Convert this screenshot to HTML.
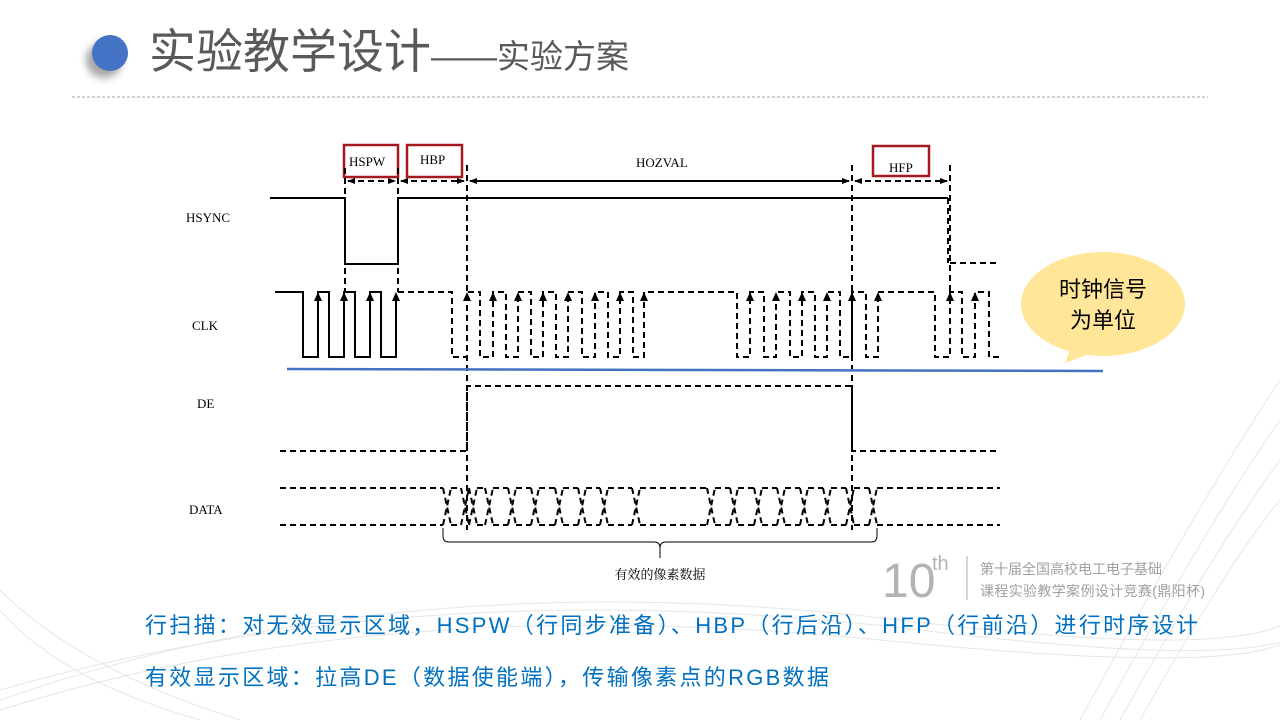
<!DOCTYPE html>
<html><head><meta charset="utf-8"><style>
body{margin:0;width:1280px;height:720px;overflow:hidden;background:#fff;font-family:"Liberation Sans","Noto Sans CJK SC",sans-serif;}
.abs{position:absolute;white-space:nowrap;}
</style></head><body>
<div style="position:relative;width:1280px;height:720px;">
<svg class="abs" style="left:0;top:0" width="1280" height="720" xmlns="http://www.w3.org/2000/svg">
<defs><filter id="sh" x="-50%" y="-50%" width="200%" height="200%"><feGaussianBlur stdDeviation="4"/></filter>
<marker id="a" markerWidth="8" markerHeight="8" refX="7" refY="4" orient="auto-start-reverse" markerUnits="userSpaceOnUse"><path d="M0,1 L8,4 L0,7 z" fill="#000"/></marker></defs>
<g fill="none" stroke="#e6e6e6" stroke-width="1">
<path d="M0,700 Q400,560 900,620 T1280,560"/><path d="M0,690 Q420,570 920,630 T1280,575"/><path d="M0,710 Q380,590 880,640 T1280,600"/>
<path d="M1080,720 Q1200,500 1280,380"/><path d="M1100,720 Q1210,520 1280,420"/><path d="M1120,720 Q1220,540 1280,460"/><path d="M1140,720 Q1230,560 1280,500"/>
<path d="M0,610 Q60,680 200,720"/><path d="M0,590 Q80,670 240,720"/>
</g>
<circle cx="104" cy="60" r="18" fill="#000" opacity="0.35" filter="url(#sh)"/>
<circle cx="110" cy="53" r="18" fill="#4472c4"/>
<line x1="72" y1="97" x2="1208" y2="97" stroke="#a6a6a6" stroke-dasharray="3,2"/>
<g fill="none" stroke="#a3191e" stroke-width="2.5">
<rect x="344" y="145" width="54" height="32"/><rect x="407" y="145" width="55" height="32"/><rect x="873" y="146" width="56" height="30"/>
</g>
<g font-family="Liberation Serif,serif" font-size="13" fill="#000">
<text x="349" y="166">HSPW</text><text x="420" y="164">HBP</text><text x="889" y="172">HFP</text>
<text x="636" y="167">HOZVAL</text>
<text x="186" y="222">HSYNC</text><text x="192" y="330">CLK</text><text x="197" y="408">DE</text><text x="189" y="514">DATA</text>
</g>
<g stroke="#000" stroke-width="2" fill="none">
<path d="M270,198 H345 V264 H398 V198 H948"/>
<path d="M275,292 H303 V357 H318 V292 H329 V357 H344 V292 H355 V357 H370 V292 H381 V357 H396 V294"/>
<line x1="470" y1="181" x2="849" y2="181" marker-start="url(#a)" marker-end="url(#a)"/>
</g>
<g stroke="#000" stroke-width="2" fill="none" stroke-dasharray="6,4">
<line x1="345" y1="168" x2="345" y2="292"/><line x1="398" y1="168" x2="398" y2="292"/>
<line x1="467" y1="165" x2="467" y2="530"/><line x1="852" y1="165" x2="852" y2="530"/>
<line x1="950" y1="165" x2="950" y2="298"/>
<line x1="948" y1="198" x2="948" y2="263"/><line x1="950" y1="263" x2="1000" y2="263"/>
<line x1="348" y1="181" x2="395" y2="181" marker-start="url(#a)" marker-end="url(#a)"/>
<line x1="401" y1="181" x2="464" y2="181" marker-start="url(#a)" marker-end="url(#a)"/>
<line x1="855" y1="181" x2="947" y2="181" marker-start="url(#a)" marker-end="url(#a)"/>
<path d="M398,292 H452 V357 H467 V292 H480 V357 H493 V292 H506 V357 H518 V292 H531 V357 H543 V292 H556 V357 H568 V292 H582 V357 H595 V292 H608 V357 H620 V292 H633 V357 H644 V292 H737 V357 H750 V292 H764 V357 H776 V292 H790 V357 H802 V292 H815 V357 H827 V292 H840 V357 H852 V292 H866 V357 H878 V292 H935 V357 H950 V292 H962 V357 H975 V292 H989 V357 H1003"/>
<path d="M280,451 H467 V386 H852 V451 H1000"/>
<path d="M280,488 H443 M280,525 H443 M877,488 H1000 M877,525 H1000"/>
<path d="M443,488 L451,525 M443,525 L451,488 M451,488 H461 M451,525 H461 M461,488 L469,525 M461,525 L469,488"/>
<path d="M469,488 L477,525 M469,525 L477,488 M477,488 H485 M477,525 H485 M485,488 L493,525 M485,525 L493,488 M493,488 H508 M493,525 H508 M508,488 L516,525 M508,525 L516,488 M516,488 H531 M516,525 H531 M531,488 L539,525 M531,525 L539,488 M539,488 H555 M539,525 H555 M555,488 L563,525 M555,525 L563,488 M563,488 H578 M563,525 H578 M578,488 L586,525 M578,525 L586,488 M586,488 H600 M586,525 H600 M600,488 L608,525 M600,525 L608,488 M608,488 H632 M608,525 H632 M632,488 L640,525 M632,525 L640,488"/>
<path d="M640,488 H707 M640,525 H707 M707,488 L715,525 M707,525 L715,488 M715,488 H730 M715,525 H730 M730,488 L738,525 M730,525 L738,488 M738,488 H754 M738,525 H754 M754,488 L762,525 M754,525 L762,488 M762,488 H777 M762,525 H777 M777,488 L785,525 M777,525 L785,488 M785,488 H800 M785,525 H800 M800,488 L808,525 M800,525 L808,488 M808,488 H823 M808,525 H823 M823,488 L831,525 M823,525 L831,488 M831,488 H846 M831,525 H846 M846,488 L854,525 M846,525 L854,488 M854,488 H869 M854,525 H869 M869,488 L877,525 M869,525 L877,488"/>
</g>
<g fill="#000"><path d="M318,292 l-4,9 h8z"/><path d="M344,292 l-4,9 h8z"/><path d="M370,292 l-4,9 h8z"/><path d="M396,292 l-4,9 h8z"/>
<path d="M467,292 l-4,9 h8z"/><path d="M493,292 l-4,9 h8z"/><path d="M518,292 l-4,9 h8z"/><path d="M543,292 l-4,9 h8z"/><path d="M568,292 l-4,9 h8z"/><path d="M595,292 l-4,9 h8z"/><path d="M620,292 l-4,9 h8z"/><path d="M644,292 l-4,9 h8z"/>
<path d="M750,292 l-4,9 h8z"/><path d="M776,292 l-4,9 h8z"/><path d="M802,292 l-4,9 h8z"/><path d="M827,292 l-4,9 h8z"/><path d="M852,292 l-4,9 h8z"/><path d="M878,292 l-4,9 h8z"/><path d="M950,292 l-4,9 h8z"/><path d="M975,292 l-4,9 h8z"/></g>
<line x1="287" y1="369" x2="1103" y2="371" stroke="#4472c4" stroke-width="2.5"/>
<path d="M443,528 v8 q0,6 6,6 H654 q6,0 6,6 v10 v-10 q0,-6 6,-6 H871 q6,0 6,-6 v-8" fill="none" stroke="#000" stroke-width="1"/>
<text x="660" y="579" text-anchor="middle" font-family="Liberation Serif,Noto Serif CJK SC,serif" font-size="13">有效的像素数据</text>
<path d="M1072,345 L1065,363 L1095,352 z" fill="#ffe699"/>
<ellipse cx="1103" cy="304" rx="82" ry="52" fill="#ffe699"/>
<text x="1103" y="297" text-anchor="middle" font-size="22" fill="#000">时钟信号</text>
<text x="1103" y="328" text-anchor="middle" font-size="22" fill="#000">为单位</text>
<text x="882" y="597" font-size="48" fill="#b3b3b3" font-weight="300">10</text>
<text x="932" y="570" font-size="20" fill="#b3b3b3">th</text>
<line x1="967" y1="556" x2="967" y2="600" stroke="#c8c8c8" stroke-width="1.5"/>
<text x="980" y="574" font-size="14" fill="#a0a0a0">第十届全国高校电工电子基础</text>
<text x="980" y="596" font-size="14" fill="#a0a0a0" textLength="225">课程实验教学案例设计竞赛(鼎阳杯)</text>
</svg>
<div class="abs" style="left:149px;top:23px;font-size:47px;color:#595959;line-height:58px;">实验教学设计<span style="font-size:33px;">——实验方案</span></div>
<div class="abs" style="left:145px;top:608px;font-size:22px;letter-spacing:2.3px;color:#0070c0;">行扫描：对无效显示区域，HSPW（行同步准备）、HBP（行后沿）、HFP（行前沿）进行时序设计</div>
<div class="abs" style="left:145px;top:660px;font-size:22px;letter-spacing:2.3px;color:#0070c0;">有效显示区域：拉高DE（数据使能端），传输像素点的RGB数据</div>
</div>
</body></html>
